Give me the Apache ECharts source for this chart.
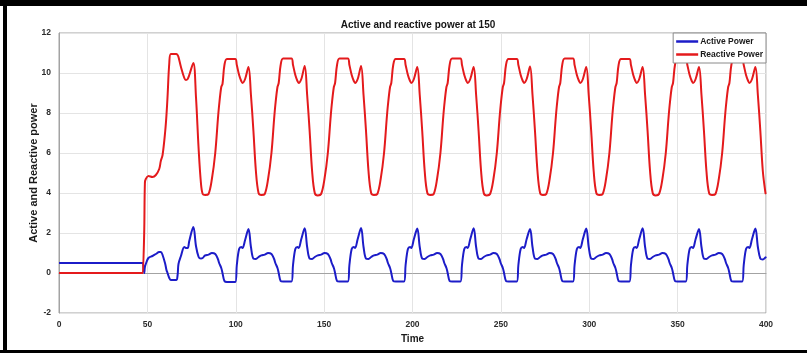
<!DOCTYPE html>
<html>
<head>
<meta charset="utf-8">
<script src="https://cdn.jsdelivr.net/npm/echarts@6/dist/echarts.min.js"></script>
<style>
html,body{margin:0;padding:0;background:#fff;}
#chart{width:807px;height:353px;}
</style>
</head>
<body>
<div id="chart"></div>
<script>
const timePoints = [
  0, 47.5, 47.9, 48.2, 48.6, 49.1, 50.6, 52.9, 54.8, 56.7, 57.6, 58.6, 60.1, 60.8, 61.4, 62.4, 63.3, 66.3, 67.1, 67.6, 69.0, 70.9, 71.8, 72.8, 73.7, 76.0, 77.5, 79.0, 80.3, 81.3,
  82.7, 84.6, 86.5, 88.4, 89.9, 90.6, 91.8, 92.5, 93.6, 95.0, 99.7, 100.6, 101.9, 103.1, 103.8, 105.3, 107.2, 108.6, 110.0, 111.4, 112.9,
  114.5, 116.4, 118.3, 120.2, 121.7, 122.4, 123.6, 124.3, 125.4, 126.8, 131.5, 132.4, 133.7, 134.9, 135.6, 137.1, 139.0, 140.4, 141.8, 143.2, 144.7,
  146.4, 148.3, 150.2, 152.1, 153.6, 154.3, 155.5, 156.2, 157.3, 158.7, 163.4, 164.3, 165.6, 166.8, 167.5, 169.0, 170.9, 172.3, 173.7, 175.1, 176.6,
  178.2, 180.1, 182.0, 183.9, 185.4, 186.1, 187.3, 188.0, 189.1, 190.5, 195.2, 196.1, 197.4, 198.6, 199.3, 200.8, 202.7, 204.1, 205.5, 206.9, 208.4,
  210.1, 212.0, 213.9, 215.8, 217.3, 218.0, 219.2, 219.9, 221.0, 222.4, 227.1, 228.0, 229.3, 230.5, 231.2, 232.7, 234.6, 236.0, 237.4, 238.8, 240.3,
  242.0, 243.9, 245.8, 247.7, 249.2, 249.9, 251.1, 251.8, 252.9, 254.3, 259.0, 259.9, 261.2, 262.4, 263.1, 264.6, 266.5, 267.9, 269.3, 270.7, 272.2,
  273.8, 275.7, 277.6, 279.5, 281.0, 281.7, 282.9, 283.6, 284.7, 286.1, 290.8, 291.7, 293.0, 294.2, 294.9, 296.4, 298.3, 299.7, 301.1, 302.5, 304.0,
  305.7, 307.6, 309.5, 311.4, 312.9, 313.6, 314.8, 315.5, 316.6, 318.0, 322.7, 323.6, 324.9, 326.1, 326.8, 328.3, 330.2, 331.6, 333.0, 334.4, 335.9,
  337.6, 339.5, 341.4, 343.3, 344.8, 345.5, 346.7, 347.4, 348.5, 349.9, 354.6, 355.5, 356.8, 358.0, 358.7, 360.2, 362.1, 363.5, 364.9, 366.3, 367.8,
  369.5, 371.4, 373.3, 375.2, 376.7, 377.4, 378.6, 379.3, 380.4, 381.8, 386.5, 387.4, 388.7, 389.9, 390.6, 392.1, 394.0, 395.4, 396.8, 398.2, 399.7,
  400
];

// Active Power (blue)
const activePower = [
  0.5, 0.5, 0.5, 0.0, 0.3, 0.45, 0.75, 0.85, 0.95, 1.05, 1.05, 0.9, 0.45, 0.15, 0.0, -0.25, -0.35, -0.35, -0.1, 0.45, 0.85, 1.3, 1.25, 1.25, 1.6, 2.3, 1.35, 0.8, 0.72, 0.75,
  0.88, 0.92, 1.0, 0.95, 0.7, 0.5, 0.25, 0.0, -0.4, -0.45, -0.45, 0.4, 1.2, 1.3, 1.25, 1.65, 2.2, 1.3, 0.72, 0.7, 0.8,
  0.88, 0.92, 1.0, 0.95, 0.7, 0.5, 0.25, 0.0, -0.4, -0.43, -0.43, 0.4, 1.2, 1.3, 1.25, 1.7, 2.24, 1.3, 0.72, 0.7, 0.8,
  0.88, 0.92, 1.0, 0.95, 0.7, 0.5, 0.25, 0.0, -0.4, -0.43, -0.43, 0.4, 1.2, 1.3, 1.25, 1.7, 2.25, 1.3, 0.72, 0.7, 0.8,
  0.88, 0.92, 1.0, 0.95, 0.7, 0.5, 0.25, 0.0, -0.4, -0.43, -0.43, 0.4, 1.2, 1.3, 1.25, 1.7, 2.22, 1.3, 0.72, 0.7, 0.8,
  0.88, 0.92, 1.0, 0.95, 0.7, 0.5, 0.25, 0.0, -0.4, -0.43, -0.43, 0.4, 1.2, 1.3, 1.25, 1.7, 2.24, 1.3, 0.72, 0.7, 0.8,
  0.88, 0.92, 1.0, 0.95, 0.7, 0.5, 0.25, 0.0, -0.4, -0.43, -0.43, 0.4, 1.2, 1.3, 1.25, 1.7, 2.2, 1.3, 0.72, 0.7, 0.8,
  0.88, 0.92, 1.0, 0.95, 0.7, 0.5, 0.25, 0.0, -0.4, -0.43, -0.43, 0.4, 1.2, 1.3, 1.25, 1.7, 2.22, 1.3, 0.72, 0.7, 0.8,
  0.88, 0.92, 1.0, 0.95, 0.7, 0.5, 0.25, 0.0, -0.4, -0.43, -0.43, 0.4, 1.2, 1.3, 1.25, 1.7, 2.24, 1.3, 0.72, 0.7, 0.8,
  0.88, 0.92, 1.0, 0.95, 0.7, 0.5, 0.25, 0.0, -0.4, -0.43, -0.43, 0.4, 1.2, 1.3, 1.25, 1.7, 2.2, 1.3, 0.72, 0.7, 0.8,
  0.88, 0.92, 1.0, 0.95, 0.7, 0.5, 0.25, 0.0, -0.4, -0.43, -0.43, 0.4, 1.2, 1.3, 1.25, 1.7, 2.22, 1.3, 0.72, 0.68, 0.78,
  0.82
];

// Reactive Power (red)
const reactivePower = [
  0, 0, 0, 2.0, 4.5, 4.7, 4.85, 4.8, 4.9, 5.2, 5.6, 5.9, 7.1, 7.9, 8.8, 10.5, 10.95, 10.95, 10.9, 10.8, 10.3, 9.75, 9.65, 9.7, 9.9, 10.5, 8.8, 6.2, 4.5, 3.95,
  3.9, 3.95, 4.7, 6.0, 7.7, 8.4, 9.3, 9.45, 10.4, 10.7, 10.7, 10.4, 9.9, 9.6, 9.5, 9.7, 10.3, 8.9, 7.1, 5.1, 4.0,
  3.9, 3.95, 4.7, 6.0, 7.7, 8.4, 9.3, 9.5, 10.4, 10.72, 10.72, 10.4, 9.9, 9.6, 9.5, 9.7, 10.35, 8.9, 7.1, 5.1, 4.0,
  3.88, 3.95, 4.7, 6.0, 7.7, 8.4, 9.3, 9.5, 10.4, 10.72, 10.72, 10.4, 9.9, 9.6, 9.5, 9.7, 10.35, 8.9, 7.1, 5.1, 4.0,
  3.9, 3.95, 4.7, 6.0, 7.7, 8.4, 9.3, 9.5, 10.4, 10.7, 10.7, 10.4, 9.9, 9.6, 9.5, 9.7, 10.3, 8.9, 7.1, 5.1, 4.0,
  3.9, 3.95, 4.7, 6.0, 7.7, 8.4, 9.3, 9.5, 10.4, 10.72, 10.72, 10.4, 9.9, 9.6, 9.5, 9.7, 10.3, 8.9, 7.1, 5.1, 4.0,
  3.88, 3.95, 4.7, 6.0, 7.7, 8.4, 9.3, 9.5, 10.4, 10.7, 10.7, 10.4, 9.9, 9.6, 9.5, 9.7, 10.32, 8.9, 7.1, 5.1, 4.0,
  3.9, 3.95, 4.7, 6.0, 7.7, 8.4, 9.3, 9.5, 10.4, 10.72, 10.72, 10.4, 9.9, 9.6, 9.5, 9.7, 10.3, 8.9, 7.1, 5.1, 4.0,
  3.9, 3.95, 4.7, 6.0, 7.7, 8.4, 9.3, 9.5, 10.4, 10.7, 10.7, 10.4, 9.9, 9.6, 9.5, 9.7, 10.3, 8.9, 7.1, 5.1, 4.0,
  3.88, 3.95, 4.7, 6.0, 7.7, 8.4, 9.3, 9.5, 10.4, 10.72, 10.72, 10.4, 9.9, 9.6, 9.5, 9.7, 10.3, 8.9, 7.1, 5.1, 4.0,
  3.9, 3.95, 4.7, 6.0, 7.7, 8.4, 9.3, 9.5, 10.4, 10.7, 10.7, 10.4, 9.9, 9.6, 9.5, 9.7, 10.3, 8.9, 7.1, 5.1, 4.0,
  3.95
];

const seriesNames = ['Active Power', 'Reactive Power'];
const chartTitle = 'Active and reactive power at 150';
const xName = 'Time';
const yName = 'Active and Reactive power';

const chart = echarts.init(document.getElementById('chart'), null, {renderer: 'canvas'});
const font = 'Arial, "Liberation Sans", sans-serif';
const axisColor = '#a3a3a3';
const labelStyle = {color: '#2b2b2b', fontSize: 8.5, fontWeight: 'bold', fontFamily: font};

chart.setOption({
  animation: false,
  backgroundColor: '#ffffff',
  title: {
    text: chartTitle,
    left: 413, textAlign: 'center', top: 15,
    textStyle: {fontSize: 10, fontWeight: 'bold', color: '#151515', fontFamily: font}
  },
  grid: {
    left: 59, right: 41, top: 33, bottom: 40,
    show: true, borderColor: axisColor, borderWidth: 1, backgroundColor: '#fff'
  },
  legend: {
    orient: 'vertical',
    right: 41, top: 33,
    data: seriesNames.map(n => ({name: n, icon: 'rect'})),
    itemWidth: 22, itemHeight: 2.5, itemGap: 2,
    padding: [3, 3, 3, 3],
    backgroundColor: '#fff',
    borderColor: '#8a8a8a', borderWidth: 1, borderRadius: 0,
    textStyle: {fontSize: 8.5, fontWeight: 'bold', color: '#1a1a1a', fontFamily: font, padding: [0, 0, 0, -3], lineHeight: 11}
  },
  xAxis: {
    type: 'value', min: 0, max: 400, interval: 50,
    name: xName, nameLocation: 'middle', nameGap: 21, nameMoveOverlap: false,
    nameTextStyle: {fontSize: 10, fontWeight: 'bold', color: '#1a1a1a', fontFamily: font},
    axisLine: {show: true, lineStyle: {color: axisColor, width: 1}},
    axisTick: {show: false},
    axisLabel: Object.assign({margin: 7}, labelStyle),
    splitLine: {show: true, lineStyle: {color: '#e4e4e4', width: 1}}
  },
  yAxis: {
    type: 'value', min: -2, max: 12, interval: 2,
    name: yName, nameLocation: 'middle', nameGap: 20, nameMoveOverlap: false,
    nameTextStyle: {fontSize: 11, fontWeight: 'bold', color: '#1a1a1a', fontFamily: font},
    axisLine: {show: true, lineStyle: {color: axisColor, width: 1}},
    axisTick: {show: false},
    axisLabel: Object.assign({margin: 8}, labelStyle),
    splitLine: {show: true, lineStyle: {color: '#e4e4e4', width: 1}}
  },
  series: [
    {
      name: seriesNames[0], type: 'line', showSymbol: false, smooth: 0.35,
      lineStyle: {color: '#1c1cc8', width: 2},
      itemStyle: {color: '#1c1cc8'},
      data: timePoints.map((t, i) => [t, activePower[i]]),
      z: 3
    },
    {
      name: seriesNames[1], type: 'line', showSymbol: false, smooth: 0.35,
      lineStyle: {color: '#e41a1c', width: 2},
      itemStyle: {color: '#e41a1c'},
      data: timePoints.map((t, i) => [t, reactivePower[i]]),
      z: 3
    }
  ],
  graphic: [
    {type: 'rect', shape: {x: 0, y: 0, width: 807, height: 6}, style: {fill: '#000'}, z: 100},
    {type: 'rect', shape: {x: 3, y: 0, width: 4, height: 353}, style: {fill: '#000'}, z: 100},
    {type: 'rect', shape: {x: 0, y: 350, width: 807, height: 3}, style: {fill: '#000'}, z: 100}
  ]
});
</script>
</body>
</html>
